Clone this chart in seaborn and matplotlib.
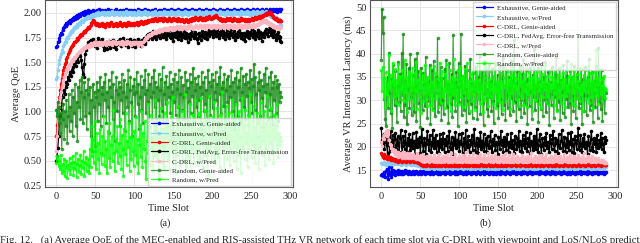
import numpy as np
import matplotlib
matplotlib.use("Agg")
import matplotlib.pyplot as plt
import seaborn as sns

series_labels = ["Exhaustive, Genie-aided", "Exhaustive, w/Pred", "C-DRL, Genie-aided",
                 "C-DRL, FedAvg, Error-free Transmission", "C-DRL, w/Pred",
                 "Random, Genie-aided", "Random, w/Pred"]
series_colors = ["#0000ff", "#87cefa", "#ff0000", "#000000", "#ffb6c1", "#138a13", "#00ff00"]

# ---------------- (a) Average QoE ----------------
qoe_exh_genie = [
 1.65, 1.66, 1.70, 1.72, 1.75, 1.78, 1.80, 1.79, 1.83, 1.85, 1.86, 1.88, 1.87, 1.90, 1.89, 1.91, 1.92, 1.90, 1.93, 1.92,
 1.94, 1.93, 1.95, 1.96, 1.94, 1.97, 1.95, 1.98, 1.96, 1.99, 1.98, 1.97, 2.00, 1.99, 2.01, 1.98, 2.00, 2.02, 2.01, 1.99,
 2.01, 2.03, 2.00, 2.02, 2.01, 1.99, 2.02, 2.03, 2.01, 2.00, 2.02, 2.01, 2.03, 2.00, 2.02, 2.04, 2.01, 2.00, 2.02, 2.03,
 2.01, 2.02, 2.00, 2.03, 2.01, 2.02, 2.04, 2.01, 2.00, 2.02, 2.03, 2.01, 2.02, 2.00, 2.01, 2.03, 2.02, 2.04, 2.01, 2.02,
 2.00, 2.02, 2.03, 2.01, 2.02, 2.00, 2.03, 2.02, 2.01, 2.04, 2.02, 2.00, 2.01, 2.03, 2.02, 2.01, 2.03, 2.00, 2.02, 2.01,
 2.03, 2.02, 2.00, 2.01, 2.04, 2.02, 2.01, 2.03, 2.00, 2.02, 2.01, 2.03, 2.02, 2.04, 2.01, 2.02, 2.00, 2.03, 2.01, 2.02,
 2.02, 2.01, 2.03, 2.00, 2.02, 2.03, 2.01, 2.04, 2.02, 2.00, 2.01, 2.03, 2.02, 2.01, 2.03, 2.02, 2.00, 2.02, 2.04, 2.01,
 2.03, 2.02, 2.01, 2.03, 2.00, 2.02, 2.01, 2.04, 2.02, 2.03, 2.01, 2.02, 2.00, 2.03, 2.02, 2.01, 2.04, 2.02, 2.03, 2.01,
 2.02, 2.00, 2.03, 2.01, 2.02, 2.04, 2.01, 2.03, 2.02, 2.00, 2.02, 2.03, 2.01, 2.02, 2.04, 2.02, 2.01, 2.03, 2.00, 2.02,
 2.01, 2.03, 2.02, 2.04, 2.01, 2.02, 2.00, 2.03, 2.02, 2.01, 2.03, 2.02, 2.04, 2.01, 2.02, 2.03, 2.00, 2.02, 2.01, 2.03,
 2.02, 2.04, 2.01, 2.03, 2.02, 2.00, 2.02, 2.01, 2.03, 2.02, 2.04, 2.01, 2.02, 2.03, 2.01, 2.02, 2.00, 2.03, 2.02, 2.04,
 2.01, 2.02, 2.03, 2.01, 2.02, 2.00, 2.03, 2.02, 2.04, 2.01, 2.03, 2.02, 2.01, 2.03, 2.02, 2.00, 2.02, 2.04, 2.01, 2.03,
 2.02, 2.01, 2.03, 2.02, 2.04, 2.01, 2.02, 2.03, 2.00, 2.02, 2.03, 2.01, 2.04, 2.02, 2.03, 2.01, 2.02, 2.04, 2.03, 2.01,
 2.02, 2.03, 2.01, 2.04, 2.02, 2.03, 2.01, 2.02, 2.04, 2.03, 2.01, 2.02, 2.03, 2.04, 2.02, 2.01, 2.03, 2.02, 2.04, 2.03,
 2.02, 2.04, 2.03, 2.01, 2.03, 2.04, 2.02, 2.03, 2.04]

qoe_exh_pred = [
 1.33, 1.35, 1.42, 1.48, 1.52, 1.55, 1.58, 1.62, 1.60, 1.66, 1.68, 1.71, 1.70, 1.74, 1.76, 1.75, 1.78, 1.80, 1.79, 1.82,
 1.81, 1.84, 1.83, 1.86, 1.85, 1.87, 1.86, 1.89, 1.88, 1.90, 1.91, 1.89, 1.92, 1.93, 1.91, 1.94, 1.93, 1.95, 1.94, 1.96,
 1.95, 1.97, 1.96, 1.95, 1.98, 1.97, 1.96, 1.99, 1.98, 1.97, 1.99, 2.00, 1.98, 1.99, 2.01, 1.98, 2.00, 1.99, 2.01, 2.00,
 1.99, 2.01, 1.98, 2.00, 1.99, 2.01, 2.00, 1.98, 2.01, 1.99, 2.00, 2.02, 1.99, 2.00, 1.98, 2.01, 2.00, 1.99, 2.01, 2.00,
 1.98, 2.00, 2.01, 1.99, 2.00, 1.98, 2.01, 2.00, 1.99, 2.02, 2.00, 1.98, 1.99, 2.01, 2.00, 1.99, 2.01, 1.98, 2.00, 1.99,
 2.01, 2.00, 1.98, 1.99, 2.02, 2.00, 1.99, 2.01, 1.98, 2.00, 1.99, 2.01, 2.00, 2.02, 1.99, 2.00, 1.98, 2.01, 1.99, 2.00,
 2.00, 1.99, 2.01, 1.98, 2.00, 2.01, 1.99, 2.02, 2.00, 1.98, 1.99, 2.01, 2.00, 1.99, 2.01, 2.00, 1.98, 2.00, 2.02, 1.99,
 2.01, 2.00, 1.99, 2.01, 1.98, 2.00, 1.99, 2.02, 2.00, 2.01, 1.99, 2.00, 1.98, 2.01, 2.00, 1.99, 2.02, 2.00, 2.01, 1.99,
 2.00, 1.98, 2.01, 1.99, 2.00, 2.02, 1.99, 2.01, 2.00, 1.98, 2.00, 2.01, 1.99, 2.00, 2.02, 2.00, 1.99, 2.01, 1.98, 2.00,
 1.99, 2.01, 2.00, 2.02, 1.99, 2.00, 1.98, 2.01, 2.00, 1.99, 2.01, 2.00, 2.02, 1.99, 2.00, 2.01, 1.98, 2.00, 1.99, 2.01,
 2.00, 2.02, 1.99, 2.01, 2.00, 1.98, 2.00, 1.99, 2.01, 2.00, 2.02, 1.99, 2.00, 2.01, 1.99, 2.00, 1.98, 2.01, 2.00, 2.02,
 1.99, 2.00, 2.01, 1.99, 2.00, 1.98, 2.01, 2.00, 2.02, 1.99, 2.01, 2.00, 1.99, 2.01, 2.00, 1.98, 2.00, 2.02, 1.99, 2.01,
 2.00, 1.99, 2.01, 2.00, 2.02, 1.99, 2.00, 2.01, 1.98, 2.00, 2.01, 1.99, 2.02, 2.00, 2.01, 1.99, 2.00, 2.02, 2.01, 1.99,
 2.00, 2.01, 1.99, 2.02, 2.00, 2.01, 1.99, 2.00, 2.02, 2.01, 1.99, 2.00, 1.98, 1.97, 1.99, 1.96, 1.98, 1.95, 1.97, 1.96,
 1.94, 1.96, 1.93, 1.95, 1.92, 1.94, 1.91, 1.89, 1.88]

qoe_cdrl_genie = [
 0.75, 0.86, 0.98, 1.08, 1.15, 1.22, 1.28, 1.33, 1.38, 1.42, 1.45, 1.48, 1.50, 1.53, 1.55, 1.58, 1.60, 1.62, 1.63, 1.65,
 1.66, 1.68, 1.67, 1.70, 1.71, 1.72, 1.73, 1.75, 1.74, 1.76, 1.77, 1.78, 1.79, 1.78, 1.80, 1.81, 1.82, 1.81, 1.83, 1.84,
 1.85, 1.86, 1.85, 1.87, 1.88, 1.90, 1.91, 1.93, 1.92, 1.90, 1.89, 1.88, 1.90, 1.89, 1.88, 1.87, 1.89, 1.88, 1.90, 1.88,
 1.87, 1.89, 1.88, 1.86, 1.88, 1.90, 1.89, 1.87, 1.88, 1.90, 1.91, 1.89, 1.88, 1.87, 1.89, 1.88, 1.90, 1.89, 1.87, 1.88,
 1.89, 1.91, 1.90, 1.88, 1.87, 1.89, 1.88, 1.90, 1.89, 1.87, 1.88, 1.90, 1.91, 1.89, 1.88, 1.90, 1.89, 1.88, 1.90, 1.89,
 1.88, 1.90, 1.89, 1.91, 1.90, 1.88, 1.89, 1.91, 1.90, 1.92, 1.91, 1.89, 1.90, 1.92, 1.91, 1.90, 1.92, 1.93, 1.91, 1.92,
 1.93, 1.92, 1.94, 1.93, 1.92, 1.94, 1.95, 1.93, 1.94, 1.92, 1.93, 1.95, 1.94, 1.93, 1.95, 1.94, 1.92, 1.93, 1.95, 1.94,
 1.93, 1.94, 1.92, 1.93, 1.95, 1.94, 1.93, 1.92, 1.94, 1.93, 1.95, 1.94, 1.93, 1.94, 1.92, 1.93, 1.95, 1.94, 1.93, 1.92,
 1.93, 1.94, 1.92, 1.91, 1.93, 1.92, 1.94, 1.93, 1.91, 1.92, 1.93, 1.94, 1.92, 1.93, 1.95, 1.94, 1.93, 1.94, 1.96, 1.95,
 1.94, 1.95, 1.93, 1.94, 1.96, 1.95, 1.94, 1.93, 1.95, 1.94, 1.93, 1.95, 1.96, 1.94, 1.95, 1.97, 1.96, 1.95, 1.94, 1.95,
 1.96, 1.95, 1.97, 1.96, 1.98, 1.97, 1.96, 1.95, 1.94, 1.95, 1.93, 1.94, 1.92, 1.93, 1.94, 1.93, 1.92, 1.94, 1.93, 1.95,
 1.94, 1.93, 1.95, 1.94, 1.93, 1.92, 1.94, 1.93, 1.95, 1.94, 1.93, 1.92, 1.93, 1.94, 1.92, 1.93, 1.95, 1.94, 1.93, 1.94,
 1.93, 1.92, 1.94, 1.93, 1.92, 1.93, 1.94, 1.92, 1.93, 1.94, 1.95, 1.94, 1.93, 1.95, 1.96, 1.95, 1.94, 1.96, 1.95, 1.97,
 1.96, 1.95, 1.97, 1.96, 1.98, 1.97, 1.98, 1.99, 1.98, 2.00, 1.99, 2.01, 2.00, 1.99, 2.01, 2.00, 1.98, 1.97, 1.96, 1.95,
 1.94, 1.95, 1.93, 1.94, 1.92, 1.93, 1.92, 1.93, 1.92]

qoe_cdrl_fedavg = [
 0.50, 0.55, 0.63, 0.75, 0.88, 0.95, 1.02, 1.08, 1.15, 1.20, 1.22, 1.18, 1.25, 1.30, 1.28, 1.35, 1.32, 1.38, 1.40, 1.36,
 1.42, 1.45, 1.40, 1.48, 1.50, 1.46, 1.52, 1.55, 1.50, 1.58, 1.56, 1.60, 1.52, 1.45, 1.38, 1.35, 1.48, 1.58, 1.62, 1.65,
 1.68, 1.70, 1.66, 1.72, 1.69, 1.73, 1.70, 1.74, 1.71, 1.68, 1.66, 1.70, 1.64, 1.72, 1.75, 1.70, 1.68, 1.72, 1.74, 1.71,
 1.66, 1.62, 1.68, 1.65, 1.70, 1.63, 1.67, 1.72, 1.68, 1.64, 1.70, 1.66, 1.73, 1.69, 1.65, 1.71, 1.67, 1.63, 1.69, 1.72,
 1.68, 1.74, 1.70, 1.66, 1.72, 1.69, 1.75, 1.71, 1.67, 1.70, 1.73, 1.68, 1.65, 1.71, 1.74, 1.69, 1.72, 1.66, 1.70, 1.73,
 1.69, 1.65, 1.71, 1.68, 1.74, 1.70, 1.67, 1.72, 1.66, 1.70, 1.73, 1.69, 1.75, 1.71, 1.68, 1.76, 1.78, 1.74, 1.79, 1.76,
 1.80, 1.77, 1.74, 1.79, 1.82, 1.76, 1.80, 1.78, 1.74, 1.81, 1.77, 1.83, 1.79, 1.75, 1.80, 1.78, 1.82, 1.76, 1.79, 1.81,
 1.77, 1.74, 1.80, 1.78, 1.83, 1.76, 1.79, 1.75, 1.81, 1.78, 1.72, 1.77, 1.80, 1.76, 1.82, 1.79, 1.74, 1.78, 1.81, 1.77,
 1.73, 1.79, 1.76, 1.82, 1.78, 1.75, 1.80, 1.77, 1.71, 1.76, 1.79, 1.74, 1.80, 1.77, 1.83, 1.78, 1.75, 1.81, 1.76, 1.79,
 1.74, 1.69, 1.75, 1.80, 1.77, 1.73, 1.78, 1.82, 1.76, 1.79, 1.75, 1.81, 1.78, 1.74, 1.80, 1.83, 1.77, 1.79, 1.84, 1.80,
 1.76, 1.82, 1.78, 1.85, 1.80, 1.77, 1.83, 1.79, 1.75, 1.81, 1.78, 1.84, 1.80, 1.76, 1.82, 1.79, 1.74, 1.80, 1.77, 1.83,
 1.79, 1.75, 1.81, 1.78, 1.84, 1.79, 1.76, 1.82, 1.78, 1.73, 1.79, 1.76, 1.81, 1.77, 1.83, 1.79, 1.75, 1.80, 1.78, 1.74,
 1.80, 1.77, 1.72, 1.78, 1.82, 1.76, 1.79, 1.75, 1.81, 1.78, 1.84, 1.79, 1.76, 1.82, 1.78, 1.74, 1.80, 1.77, 1.83, 1.79,
 1.75, 1.81, 1.78, 1.72, 1.77, 1.80, 1.76, 1.82, 1.79, 1.84, 1.80, 1.77, 1.83, 1.86, 1.81, 1.78, 1.84, 1.80, 1.76, 1.82,
 1.78, 1.73, 1.79, 1.75, 1.81, 1.77, 1.72, 1.76, 1.70]

qoe_cdrl_pred = [
 0.60, 0.75, 0.90, 1.00, 1.08, 1.15, 1.20, 1.25, 1.28, 1.32, 1.35, 1.38, 1.40, 1.42, 1.44, 1.43, 1.46, 1.48, 1.47, 1.50,
 1.52, 1.51, 1.53, 1.55, 1.54, 1.56, 1.58, 1.57, 1.59, 1.60, 1.61, 1.60, 1.62, 1.63, 1.62, 1.64, 1.65, 1.64, 1.66, 1.65,
 1.66, 1.67, 1.65, 1.68, 1.66, 1.69, 1.67, 1.68, 1.70, 1.67, 1.69, 1.68, 1.70, 1.67, 1.69, 1.71, 1.68, 1.70, 1.69, 1.67,
 1.69, 1.71, 1.68, 1.70, 1.67, 1.69, 1.72, 1.70, 1.68, 1.71, 1.69, 1.67, 1.70, 1.72, 1.69, 1.71, 1.68, 1.70, 1.69, 1.71,
 1.70, 1.68, 1.71, 1.69, 1.72, 1.70, 1.67, 1.69, 1.71, 1.68, 1.70, 1.72, 1.69, 1.71, 1.68, 1.70, 1.67, 1.69, 1.71, 1.70,
 1.68, 1.70, 1.69, 1.71, 1.67, 1.69, 1.70, 1.68, 1.71, 1.69, 1.66, 1.70, 1.72, 1.74, 1.73, 1.76, 1.75, 1.77, 1.78, 1.77,
 1.79, 1.78, 1.80, 1.79, 1.81, 1.80, 1.82, 1.81, 1.80, 1.82, 1.83, 1.81, 1.82, 1.84, 1.83, 1.82, 1.84, 1.83, 1.85, 1.84,
 1.83, 1.85, 1.84, 1.83, 1.85, 1.86, 1.84, 1.85, 1.83, 1.84, 1.86, 1.85, 1.84, 1.86, 1.85, 1.87, 1.86, 1.84, 1.85, 1.87,
 1.86, 1.84, 1.85, 1.87, 1.86, 1.85, 1.84, 1.86, 1.87, 1.85, 1.86, 1.88, 1.87, 1.85, 1.86, 1.84, 1.86, 1.87, 1.86, 1.88,
 1.87, 1.86, 1.85, 1.87, 1.88, 1.86, 1.85, 1.87, 1.86, 1.88, 1.87, 1.85, 1.86, 1.88, 1.87, 1.86, 1.88, 1.87, 1.85, 1.86,
 1.88, 1.87, 1.86, 1.88, 1.87, 1.85, 1.86, 1.88, 1.87, 1.86, 1.85, 1.87, 1.86, 1.88, 1.87, 1.85, 1.86, 1.87, 1.88, 1.86,
 1.85, 1.87, 1.86, 1.88, 1.87, 1.86, 1.85, 1.87, 1.88, 1.86, 1.87, 1.85, 1.86, 1.88, 1.87, 1.86, 1.88, 1.87, 1.85, 1.87,
 1.86, 1.88, 1.87, 1.85, 1.86, 1.88, 1.87, 1.86, 1.88, 1.87, 1.86, 1.88, 1.89, 1.87, 1.88, 1.86, 1.88, 1.89, 1.88, 1.90,
 1.89, 1.91, 1.90, 1.92, 1.91, 1.93, 1.92, 1.91, 1.93, 1.92, 1.90, 1.91, 1.89, 1.90, 1.88, 1.89, 1.87, 1.88, 1.86, 1.87,
 1.86, 1.85, 1.87, 1.86, 1.85, 1.84, 1.86, 1.85, 1.86]

qoe_random_genie = [
 1.02, 0.95, 1.10, 0.88, 1.05, 0.78, 0.98, 0.62, 0.92, 1.08, 0.72, 1.00, 0.85, 1.12, 0.68, 0.95, 1.18, 0.80, 1.05, 0.90,
 1.22, 0.75, 1.15, 0.98, 1.28, 0.85, 1.10, 0.70, 1.25, 1.05, 1.32, 0.92, 1.20, 1.35, 0.88, 1.15, 1.30, 0.95, 1.22, 0.82,
 1.18, 1.33, 0.98, 1.25, 0.75, 1.12, 0.60, 1.28, 1.05, 1.20, 0.65, 1.15, 1.30, 0.90, 1.22, 1.08, 1.35, 0.85, 1.18, 1.25,
 0.95, 1.30, 1.12, 1.38, 0.88, 1.20, 1.05, 1.32, 0.78, 1.25, 1.15, 1.40, 0.92, 1.28, 1.10, 0.70, 1.22, 1.35, 1.00, 1.18,
 1.30, 0.85, 1.25, 1.12, 1.38, 0.98, 1.20, 1.32, 0.80, 1.15, 1.28, 1.05, 1.42, 0.90, 1.22, 1.35, 1.10, 0.75, 1.26, 1.18,
 1.33, 0.95, 1.20, 1.40, 1.08, 1.28, 0.82, 1.15, 1.36, 1.02, 1.25, 0.88, 1.32, 1.18, 1.42, 0.98, 1.22, 1.10, 1.38, 0.85,
 1.28, 1.15, 1.35, 0.92, 1.20, 1.42, 1.05, 1.30, 0.80, 1.25, 1.12, 1.38, 0.95, 1.22, 1.33, 1.00, 1.45, 0.88, 1.18, 1.30,
 1.08, 1.36, 0.90, 1.25, 1.15, 1.40, 0.98, 1.28, 1.20, 0.84, 1.33, 1.10, 1.38, 0.96, 1.23, 1.30, 1.05, 1.42, 0.88, 1.18,
 1.35, 1.02, 1.27, 1.15, 0.92, 1.40, 1.20, 1.32, 0.86, 1.24, 1.10, 1.38, 0.98, 1.30, 1.16, 1.44, 0.90, 1.22, 1.34, 1.05,
 1.28, 0.94, 1.36, 1.12, 1.25, 0.82, 1.40, 1.18, 1.30, 1.00, 1.35, 1.08, 1.22, 0.88, 1.42, 1.15, 1.30, 0.96, 1.26, 1.38,
 1.04, 1.32, 0.90, 1.20, 1.40, 1.12, 1.28, 0.85, 1.35, 1.18, 1.45, 0.98, 1.24, 1.30, 1.06, 1.38, 0.92, 1.22, 1.33, 1.10,
 1.36, 0.88, 1.26, 1.15, 1.42, 1.00, 1.30, 1.20, 0.82, 1.34, 1.08, 1.40, 0.95, 1.25, 1.32, 1.12, 1.44, 0.90, 1.20, 1.36,
 1.05, 1.28, 0.92, 1.38, 1.16, 1.30, 0.86, 1.24, 1.42, 1.10, 1.33, 0.98, 1.26, 1.48, 1.02, 1.35, 1.18, 0.88, 1.30, 1.22,
 1.40, 0.95, 1.32, 1.14, 1.26, 0.84, 1.38, 1.20, 1.44, 1.06, 1.28, 0.92, 1.35, 1.18, 1.02, 1.40, 1.24, 0.86, 1.30, 1.12,
 1.36, 0.98, 1.25, 1.32, 0.90, 1.28, 1.10, 1.20, 1.15]

qoe_random_pred = [
 0.48, 0.55, 0.52, 0.45, 0.50, 0.42, 0.56, 0.38, 0.47, 0.40, 0.52, 0.35, 0.44, 0.50, 0.33, 0.46, 0.41, 0.53, 0.37, 0.48,
 0.43, 0.55, 0.36, 0.49, 0.42, 0.58, 0.34, 0.47, 0.52, 0.39, 0.45, 0.56, 0.37, 0.50, 0.43, 0.60, 0.35, 0.48, 0.54, 0.40,
 0.46, 0.52, 0.38, 0.62, 0.44, 0.85, 0.55, 0.72, 0.48, 0.90, 0.60, 0.42, 0.78, 0.52, 0.68, 0.38, 0.82, 0.58, 0.47, 0.75,
 0.56, 0.95, 0.45, 0.70, 0.62, 0.38, 0.80, 0.53, 0.88, 0.44, 0.66, 0.75, 0.50, 1.02, 0.58, 0.40, 0.72, 0.60, 0.85, 0.48,
 0.68, 0.55, 0.92, 0.42, 0.76, 0.62, 0.35, 0.82, 0.57, 0.98, 0.46, 0.70, 0.64, 0.88, 0.40, 0.74, 0.52, 1.05, 0.60, 0.45,
 0.80, 0.56, 0.94, 0.48, 0.72, 0.38, 0.66, 0.86, 0.54, 1.00, 0.44, 0.78, 0.62, 0.90, 0.50, 0.32, 0.70, 1.08, 0.58, 0.84,
 0.46, 0.96, 0.64, 0.74, 0.40, 0.88, 0.56, 1.12, 0.68, 0.50, 0.92, 0.36, 0.78, 0.60, 1.04, 0.48, 0.82, 0.66, 0.44, 0.98,
 0.58, 0.76, 1.10, 0.52, 0.86, 0.42, 0.70, 0.94, 0.62, 1.15, 0.48, 0.80, 0.66, 0.38, 0.92, 0.56, 1.06, 0.72, 0.46, 0.88,
 0.64, 1.00, 0.50, 0.84, 0.60, 1.18, 0.44, 0.78, 0.92, 0.54, 0.70, 1.08, 0.40, 0.86, 0.62, 0.96, 0.48, 0.74, 1.12, 0.58,
 0.82, 0.46, 0.98, 0.66, 0.52, 1.14, 0.72, 0.88, 0.42, 0.80, 1.02, 0.56, 0.90, 0.64, 0.36, 0.84, 1.16, 0.60, 0.76, 0.50,
 0.94, 0.68, 1.10, 0.48, 0.78, 0.62, 1.04, 0.54, 0.86, 0.44, 0.96, 0.72, 1.20, 0.58, 0.80, 0.40, 0.90, 0.66, 1.06, 0.52,
 0.76, 0.98, 0.46, 0.84, 0.60, 1.12, 0.70, 0.50, 0.92, 0.64, 1.08, 0.42, 0.82, 0.56, 1.00, 0.74, 0.38, 0.88, 1.14, 0.62,
 0.86, 0.52, 1.02, 0.68, 0.78, 0.44, 0.96, 0.60, 1.18, 0.72, 0.54, 0.90, 0.66, 1.06, 0.48, 0.84, 0.58, 0.98, 0.74, 0.42,
 0.92, 0.64, 1.10, 0.56, 0.80, 0.70, 1.00, 0.46, 0.88, 0.62, 1.16, 0.76, 0.52, 0.94, 0.68, 1.04, 0.58, 0.82, 0.48, 0.96,
 0.72, 1.08, 0.60, 0.86, 0.54, 0.78, 0.66, 0.74, 0.70]

# ---------------- (b) Average VR interaction latency (ms) ----------------
lat_exh_genie = [
 14.0, 14.2, 13.8, 14.5, 14.1, 13.6, 14.8, 15.3, 14.0, 13.2, 15.8, 14.4, 13.5, 15.6, 14.2, 15.1, 14.6, 14.0, 14.9, 14.3,
 14.7, 14.1, 15.0, 14.4, 14.8, 14.2, 14.9, 14.5, 14.1, 14.7, 15.0, 14.3, 14.6, 14.9, 14.2, 14.5, 14.8, 14.4, 14.1, 14.7,
 14.4, 14.8, 14.2, 14.6, 14.9, 14.3, 14.5, 14.1, 14.7, 14.4, 14.8, 14.2, 14.6, 14.3, 14.9, 14.5, 14.2, 14.7, 14.4, 14.6,
 14.3, 14.7, 14.5, 14.1, 14.6, 14.8, 14.2, 14.5, 14.4, 14.9, 14.3, 14.6, 14.2, 14.7, 14.5, 14.1, 14.8, 14.4, 14.6, 14.3,
 14.7, 14.4, 14.2, 14.8, 14.5, 14.3, 14.6, 14.9, 14.2, 14.5, 14.7, 14.3, 14.6, 14.4, 14.1, 14.8, 14.5, 14.2, 14.7, 14.4,
 14.5, 14.8, 14.3, 14.6, 14.2, 14.7, 14.4, 14.9, 14.5, 14.1, 14.6, 14.3, 14.8, 14.4, 14.6, 14.2, 14.7, 14.5, 14.3, 14.6,
 14.4, 14.2, 14.7, 14.5, 14.8, 14.3, 14.6, 14.1, 14.5, 14.7, 14.4, 14.9, 14.2, 14.6, 14.3, 14.5, 14.8, 14.4, 14.2, 14.6,
 14.7, 14.3, 14.5, 14.2, 14.6, 14.8, 14.4, 14.1, 14.6, 14.3, 14.7, 14.5, 14.2, 14.8, 14.4, 14.6, 14.3, 14.5, 14.7, 14.2,
 14.5, 14.8, 14.3, 14.6, 14.4, 14.2, 14.7, 14.5, 14.9, 14.3, 14.6, 14.4, 14.1, 14.7, 14.5, 14.3, 14.8, 14.4, 14.6, 14.2,
 14.6, 14.4, 14.8, 14.3, 14.5, 14.7, 14.2, 14.6, 14.4, 14.9, 14.3, 14.5, 14.7, 14.2, 14.6, 14.4, 14.8, 14.5, 14.3, 14.7,
 14.4, 14.6, 14.2, 14.8, 14.5, 14.3, 14.7, 14.4, 14.6, 14.1, 14.5, 14.8, 14.3, 14.6, 14.4, 14.7, 14.2, 14.5, 14.9, 14.4,
 14.3, 14.6, 14.5, 14.2, 14.7, 14.4, 14.8, 14.3, 14.5, 14.6, 14.2, 14.7, 14.4, 14.5, 14.8, 14.3, 14.6, 14.4, 14.1, 14.6,
 14.5, 14.2, 14.7, 14.4, 14.6, 14.3, 14.8, 14.5, 14.2, 14.6, 14.4, 14.7, 14.3, 14.5, 14.8, 14.4, 14.2, 14.6, 14.5, 14.3,
 14.7, 14.4, 14.6, 14.2, 14.5, 14.8, 14.3, 14.6, 14.4, 14.7, 14.2, 14.5, 14.4, 14.6, 14.3, 14.7, 14.5, 14.2, 14.6, 14.4,
 14.5, 14.3, 14.7, 14.4, 14.6, 14.2, 14.5, 14.4, 14.5]

lat_exh_pred = [
 16.5, 16.4, 16.6, 16.3, 16.7, 16.5, 16.2, 16.6, 16.4, 16.8, 16.5, 16.3, 16.6, 16.4, 16.7, 16.5, 16.3, 16.6, 16.5, 16.4,
 16.6, 16.3, 16.5, 16.7, 16.4, 16.2, 16.6, 16.5, 16.3, 16.7, 16.4, 16.5, 16.2, 16.6, 16.4, 16.3, 16.5, 16.6, 16.2, 16.4,
 16.5, 16.3, 16.1, 16.4, 16.2, 16.0, 16.3, 15.9, 16.1, 15.8, 15.9, 15.7, 15.8, 15.6, 15.9, 15.7, 15.5, 15.8, 15.6, 15.7,
 15.6, 15.4, 15.7, 15.5, 15.8, 15.4, 15.6, 15.3, 15.7, 15.5, 15.6, 15.8, 15.4, 15.6, 15.5, 15.7, 15.3, 15.6, 15.5, 15.8,
 15.5, 15.7, 15.4, 15.6, 15.3, 15.7, 15.5, 15.8, 15.4, 15.6, 15.5, 15.3, 15.7, 15.6, 15.4, 15.8, 15.5, 15.6, 15.4, 15.7,
 15.6, 15.4, 15.8, 15.5, 15.7, 15.3, 15.6, 15.5, 15.7, 15.4, 15.8, 15.6, 15.5, 15.3, 15.7, 15.4, 15.6, 15.8, 15.5, 15.6,
 15.4, 15.7, 15.5, 15.6, 15.8, 15.4, 15.6, 15.3, 15.7, 15.5, 15.6, 15.4, 15.8, 15.5, 15.7, 15.6, 15.3, 15.6, 15.5, 15.7,
 15.5, 15.8, 15.4, 15.6, 15.5, 15.7, 15.3, 15.6, 15.8, 15.4, 15.7, 15.5, 15.6, 15.4, 15.8, 15.5, 15.6, 15.3, 15.7, 15.5,
 15.6, 15.4, 15.7, 15.5, 15.3, 15.8, 15.6, 15.4, 15.7, 15.5, 15.6, 15.8, 15.4, 15.6, 15.5, 15.7, 15.3, 15.6, 15.8, 15.5,
 15.7, 15.5, 15.6, 15.4, 15.8, 15.5, 15.7, 15.3, 15.6, 15.5, 15.8, 15.4, 15.6, 15.7, 15.5, 15.3, 15.6, 15.8, 15.4, 15.6,
 15.5, 15.7, 15.4, 15.6, 15.8, 15.5, 15.6, 15.3, 15.7, 15.5, 15.6, 15.4, 15.8, 15.6, 15.5, 15.7, 15.4, 15.6, 15.5, 15.8,
 15.6, 15.4, 15.7, 15.5, 15.6, 15.3, 15.8, 15.5, 15.7, 15.4, 15.6, 15.5, 15.8, 15.6, 15.4, 15.7, 15.5, 15.3, 15.6, 15.7,
 15.5, 15.8, 15.6, 15.4, 15.7, 15.5, 15.6, 15.3, 15.8, 15.6, 15.5, 15.7, 15.4, 15.6, 15.8, 15.5, 15.7, 15.4, 15.6, 15.5,
 15.7, 15.5, 15.6, 15.8, 15.4, 15.6, 15.5, 15.7, 15.3, 15.6, 15.8, 15.5, 15.7, 15.4, 15.6, 15.5, 15.8, 15.6, 15.4, 15.7,
 15.5, 15.6, 15.8, 15.4, 15.7, 15.5, 15.6, 15.8, 15.6]

lat_cdrl_genie = [
 18.6, 18.2, 17.8, 18.4, 17.6, 18.1, 17.9, 17.4, 18.0, 17.7, 17.3, 17.9, 17.5, 17.2, 17.6, 17.1, 17.4, 16.9, 17.3, 17.0,
 17.2, 16.8, 17.1, 17.3, 16.9, 17.0, 17.2, 16.8, 17.1, 16.9, 17.3, 17.0, 16.8, 17.2, 16.9, 17.1, 17.0, 16.8, 17.2, 16.9,
 17.0, 17.1, 16.8, 16.9, 17.0, 16.7, 16.9, 16.6, 16.8, 16.5, 16.3, 16.1, 16.2, 15.9, 16.1, 16.0, 16.2, 15.9, 16.1, 16.3,
 16.0, 16.2, 15.9, 16.1, 16.3, 15.9, 16.0, 16.2, 16.1, 15.8, 16.0, 16.3, 16.1, 15.9, 16.2, 16.0, 16.1, 15.8, 16.2, 16.0,
 16.1, 15.9, 16.2, 16.0, 16.3, 16.1, 15.8, 16.0, 16.2, 15.9, 16.1, 16.0, 16.3, 15.9, 16.1, 16.2, 16.0, 15.8, 16.1, 16.2,
 15.9, 16.1, 16.0, 16.2, 15.9, 16.3, 16.1, 16.0, 15.8, 16.2, 16.0, 16.1, 15.9, 16.2, 16.0, 16.3, 16.1, 15.9, 16.0, 16.2,
 16.1, 15.9, 16.2, 16.0, 16.1, 15.8, 16.2, 16.0, 16.3, 16.1, 15.9, 16.0, 16.2, 16.1, 15.9, 16.0, 16.3, 16.1, 16.0, 15.8,
 16.2, 16.0, 16.1, 15.9, 16.3, 16.1, 16.0, 16.2, 15.9, 16.1, 16.0, 16.2, 15.8, 16.1, 16.3, 16.0, 15.9, 16.2, 16.1, 16.0,
 15.9, 16.2, 16.0, 16.1, 16.3, 16.0, 15.8, 16.1, 16.2, 16.0, 16.4, 16.1, 15.9, 16.2, 16.0, 16.1, 16.3, 15.9, 16.1, 16.0,
 16.2, 16.0, 16.3, 16.1, 15.9, 16.2, 16.0, 16.1, 15.8, 16.2, 16.1, 16.0, 16.3, 15.9, 16.1, 16.2, 16.0, 16.1, 15.9, 16.2,
 16.0, 16.1, 16.3, 15.9, 16.2, 16.0, 16.1, 15.8, 16.2, 16.0, 16.1, 16.3, 16.0, 15.9, 16.2, 16.1, 16.0, 16.2, 15.9, 16.1,
 16.2, 16.0, 16.1, 15.9, 16.3, 16.1, 16.0, 16.2, 15.8, 16.1, 16.0, 16.2, 16.1, 15.9, 16.3, 16.0, 16.1, 16.2, 16.0, 15.9,
 16.1, 16.3, 16.0, 16.2, 15.9, 16.1, 16.0, 16.2, 16.1, 15.8, 16.2, 16.0, 16.1, 16.3, 15.9, 16.1, 16.0, 16.2, 16.1, 16.0,
 16.2, 15.9, 16.1, 16.0, 16.3, 16.1, 16.0, 16.2, 15.9, 16.1, 16.2, 16.0, 16.1, 15.8, 16.2, 16.0, 16.3, 16.1, 16.0, 16.2,
 16.1, 15.9, 16.2, 16.0, 16.1, 16.3, 16.0, 16.2, 16.1]

lat_cdrl_fedavg = [
 24.0, 21.5, 20.2, 22.8, 19.5, 21.0, 23.2, 20.4, 18.6, 22.1, 20.8, 19.2, 23.5, 21.3, 20.0, 22.6, 19.8, 21.7, 23.0, 20.5,
 19.4, 22.3, 20.9, 18.8, 21.8, 23.6, 20.1, 19.0, 22.4, 21.1, 19.6, 23.3, 20.7, 18.9, 21.9, 20.3, 22.7, 19.3, 21.4, 20.0,
 22.9, 19.7, 21.2, 18.5, 20.6, 23.1, 19.9, 21.6, 20.2, 22.2, 18.7, 21.0, 23.8, 20.4, 19.1, 22.0, 20.8, 18.4, 21.5, 23.4,
 20.6, 19.3, 22.5, 21.0, 18.9, 20.5, 23.7, 19.8, 21.8, 20.1, 22.6, 19.0, 21.3, 20.7, 18.6, 22.8, 20.0, 21.6, 19.5, 23.0,
 20.9, 18.8, 21.7, 20.3, 22.4, 19.2, 21.1, 23.5, 20.0, 19.6, 22.1, 20.8, 18.5, 21.9, 20.4, 23.2, 19.7, 21.4, 20.2, 22.7,
 19.1, 21.2, 20.6, 22.9, 18.7, 20.3, 21.8, 19.4, 23.6, 20.9, 19.9, 22.3, 20.1, 18.9, 21.5, 20.7, 22.5, 19.3, 21.0, 23.9,
 20.4, 19.0, 22.0, 20.8, 18.6, 21.6, 20.2, 23.1, 19.5, 21.3, 20.0, 22.8, 19.2, 20.6, 21.9, 18.8, 22.4, 20.5, 19.7, 21.2,
 23.3, 20.1, 18.9, 21.7, 20.3, 22.6, 19.4, 21.0, 20.7, 18.4, 22.2, 20.9, 19.6, 23.4, 20.5, 21.4, 19.0, 22.1, 20.2, 21.8,
 19.3, 22.7, 20.6, 18.8, 21.1, 20.0, 23.0, 19.8, 21.5, 20.4, 18.6, 22.3, 20.8, 19.5, 21.9, 20.2, 23.5, 19.1, 21.3, 20.7,
 18.9, 22.5, 20.3, 21.6, 19.7, 23.2, 20.9, 19.2, 21.8, 20.1, 22.9, 18.7, 21.2, 20.6, 19.4, 22.4, 20.0, 21.7, 19.6, 23.8,
 20.5, 19.0, 21.4, 22.8, 20.2, 18.5, 21.9, 20.7, 19.3, 22.1, 20.4, 23.0, 19.8, 21.1, 20.0, 18.8, 22.6, 20.9, 19.5, 21.6,
 23.3, 20.3, 19.1, 22.0, 20.8, 21.5, 18.6, 22.7, 20.1, 19.7, 21.3, 23.6, 20.6, 19.2, 22.2, 20.4, 18.9, 21.8, 20.0, 22.9,
 19.4, 21.2, 20.7, 23.1, 19.0, 21.7, 20.3, 18.7, 22.4, 20.9, 19.6, 21.4, 24.0, 20.2, 19.3, 22.5, 20.6, 18.8, 21.9, 20.1,
 22.8, 19.8, 21.0, 20.5, 18.5, 22.3, 20.8, 19.4, 21.6, 23.4, 20.0, 19.1, 22.0, 20.7, 21.3, 18.9, 22.6, 20.4, 19.7, 21.5,
 20.2, 23.0, 19.5, 21.8, 20.6, 18.8, 22.2, 20.9, 21.4]

lat_cdrl_pred = [
 21.0, 20.2, 21.8, 22.5, 21.6, 22.9, 23.3, 22.4, 23.6, 22.8, 21.5, 20.6, 19.8, 20.4, 19.2, 19.6, 18.8, 19.4, 18.5, 19.0,
 18.2, 18.8, 17.9, 18.5, 18.0, 18.7, 17.6, 18.3, 18.9, 17.8, 18.4, 17.5, 18.1, 18.6, 17.7, 18.2, 17.9, 18.5, 17.6, 18.0,
 17.8, 18.4, 17.5, 18.1, 17.3, 17.9, 18.6, 17.4, 18.0, 17.2, 17.7, 18.3, 17.0, 17.6, 18.2, 17.1, 17.8, 16.9, 17.5, 18.1,
 17.3, 16.8, 17.6, 18.0, 17.1, 17.7, 16.9, 17.4, 18.3, 17.0, 17.5, 16.7, 17.9, 17.2, 18.5, 17.0, 16.8, 17.6, 17.3, 18.1,
 17.0, 17.8, 16.9, 17.4, 18.2, 17.1, 16.7, 17.6, 17.2, 18.6, 17.3, 16.8, 17.5, 17.9, 17.0, 18.4, 17.2, 16.9, 17.7, 17.4,
 18.0, 17.1, 17.6, 16.8, 18.3, 17.3, 17.0, 17.8, 18.8, 17.2, 16.9, 17.5, 18.1, 17.0, 17.7, 16.8, 17.4, 18.5, 17.1, 17.6,
 16.9, 17.3, 18.0, 17.5, 16.8, 17.8, 17.1, 18.4, 17.0, 17.6, 16.9, 17.4, 18.2, 17.2, 16.8, 17.7, 17.0, 18.6, 17.3, 16.9,
 17.5, 18.1, 17.0, 16.8, 17.6, 17.2, 18.3, 16.9, 17.4, 17.8, 17.1, 16.7, 17.9, 17.3, 18.0, 17.0, 16.8, 17.5, 18.4, 17.2,
 16.9, 17.6, 17.1, 18.2, 16.8, 17.4, 17.0, 17.8, 16.7, 18.5, 17.3, 16.9, 17.5, 17.1, 18.0, 16.8, 17.6, 17.2, 16.9, 17.7,
 18.3, 17.0, 16.8, 17.5, 17.1, 17.9, 16.7, 17.3, 18.1, 16.9, 17.4, 17.0, 18.6, 17.2, 16.8, 17.6, 17.1, 18.0, 16.9, 17.4,
 17.0, 17.8, 16.8, 17.3, 18.2, 16.9, 17.5, 17.1, 16.7, 17.9, 17.2, 18.4, 16.8, 17.4, 17.0, 17.7, 16.9, 18.1, 17.3, 16.8,
 17.6, 17.1, 18.3, 16.9, 17.4, 17.0, 17.8, 16.7, 17.5, 18.0, 17.2, 16.8, 17.6, 17.1, 18.5, 16.9, 17.3, 17.0, 17.9, 16.8,
 17.4, 18.2, 17.0, 16.8, 17.7, 17.2, 16.9, 18.0, 17.3, 16.7, 17.5, 17.1, 18.3, 16.9, 17.6, 17.0, 16.8, 17.8, 17.2, 18.6,
 17.0, 16.8, 17.5, 17.1, 18.1, 16.9, 17.4, 17.0, 17.7, 16.8, 18.0, 17.2, 16.9, 17.6, 17.1, 16.8, 17.3, 16.9, 17.5, 17.0,
 16.8, 17.2, 16.7, 16.9, 17.1, 16.6, 16.8, 16.5, 16.6]

lat_random_genie = [
 38.6, 49.6, 44.5, 47.8, 30.2, 26.0, 24.5, 33.8, 35.0, 28.4, 40.2, 31.5, 27.2, 34.6, 24.0, 37.5, 32.8, 28.9, 36.2, 30.4,
 25.3, 33.1, 38.2, 29.6, 35.7, 27.8, 40.1, 31.2, 44.2, 26.5, 34.3, 29.0, 37.8, 24.8, 32.5, 36.9, 28.3, 40.0, 30.7, 26.9,
 35.4, 31.8, 27.4, 38.8, 33.0, 25.6, 40.1, 29.5, 36.3, 32.1, 24.2, 37.0, 30.6, 27.9, 35.8, 33.4, 28.7, 39.3, 31.0, 26.3,
 34.2, 29.8, 37.6, 24.9, 32.7, 36.4, 28.1, 38.5, 30.9, 26.7, 35.1, 31.6, 43.3, 27.5, 33.9, 29.3, 37.2, 25.8, 34.8, 30.1,
 27.0, 36.7, 32.3, 38.6, 28.6, 33.6, 25.1, 37.9, 31.4, 29.1, 35.6, 26.4, 44.0, 30.4, 34.0, 27.7, 36.1, 32.9, 24.5, 38.0,
 29.7, 33.2, 44.3, 26.8, 35.3, 31.1, 28.0, 37.4, 32.6, 25.4, 36.6, 30.0, 27.3, 34.5, 38.9, 29.2, 33.7, 26.1, 35.9, 31.9,
 28.5, 37.1, 32.0, 25.9, 34.9, 30.3, 39.6, 27.1, 33.3, 36.0, 29.4, 24.7, 35.2, 31.3, 38.3, 28.2, 32.4, 26.6, 37.7, 30.8,
 34.1, 27.6, 36.8, 29.9, 25.2, 33.5, 38.1, 31.7, 28.8, 35.5, 26.2, 32.2, 37.3, 30.2, 27.0, 34.7, 39.0, 29.0, 33.1, 25.7,
 36.5, 31.2, 28.4, 35.0, 32.8, 26.9, 38.4, 30.5, 34.3, 27.8, 43.0, 29.6, 33.8, 25.5, 36.2, 31.0, 28.1, 37.5, 32.5, 26.4,
 35.7, 30.0, 38.7, 27.3, 33.9, 29.1, 36.4, 24.9, 34.6, 31.5, 28.7, 37.0, 32.0, 26.0, 35.4, 30.7, 41.0, 27.9, 33.2, 29.8,
 36.9, 25.3, 34.2, 31.8, 28.2, 37.8, 32.7, 26.7, 35.1, 30.1, 38.2, 27.4, 33.6, 29.4, 36.1, 24.6, 34.0, 31.4, 28.9, 37.2,
 32.3, 26.3, 35.8, 30.6, 39.2, 28.0, 33.4, 29.7, 36.7, 25.8, 34.4, 31.7, 27.2, 37.6, 32.1, 26.5, 35.3, 30.3, 38.5, 28.6,
 33.0, 29.2, 36.3, 25.0, 34.9, 31.1, 27.7, 37.4, 32.9, 26.1, 35.6, 30.4, 43.8, 28.3, 33.7, 29.5, 36.8, 24.8, 34.5, 31.2,
 27.6, 37.1, 32.4, 26.8, 35.0, 30.9, 38.8, 27.9, 33.5, 29.0, 36.0, 25.4, 34.1, 31.6, 28.5, 37.3, 32.6, 26.2, 41.3, 29.7,
 33.8, 28.1, 36.6, 25.6, 34.7, 30.2, 27.3, 32.0, 31.5]

lat_random_pred = [
 36.4, 32.0, 37.2, 30.5, 34.8, 28.6, 36.0, 31.4, 33.7, 29.2, 39.8, 32.6, 35.5, 27.8, 34.1, 38.0, 30.8, 33.2, 36.7, 29.5,
 34.3, 31.1, 37.8, 28.9, 35.2, 32.4, 30.0, 36.5, 33.0, 29.8, 38.6, 31.7, 34.9, 27.5, 33.6, 36.1, 30.3, 35.7, 32.2, 28.4,
 37.0, 33.4, 29.6, 35.9, 31.9, 38.3, 28.2, 34.4, 32.8, 30.6, 36.3, 27.3, 33.9, 35.4, 29.9, 31.5, 37.5, 30.2, 34.6, 28.8,
 35.1, 32.9, 29.0, 36.9, 31.2, 34.0, 27.9, 33.3, 37.3, 30.4, 35.8, 32.1, 28.6, 34.7, 31.0, 38.1, 29.4, 33.8, 36.2, 30.9,
 32.5, 28.3, 35.6, 31.8, 37.7, 29.7, 34.2, 30.7, 36.6, 27.6, 33.1, 35.0, 31.3, 38.8, 28.9, 34.5, 32.3, 30.1, 36.4, 29.3,
 33.5, 37.1, 30.8, 34.8, 28.5, 35.3, 31.6, 36.8, 29.1, 33.0, 37.9, 30.5, 34.1, 27.7, 35.7, 32.7, 29.8, 36.0, 31.4, 33.9,
 28.0, 35.5, 32.0, 37.4, 30.3, 34.3, 29.5, 36.1, 31.9, 33.2, 27.4, 35.0, 38.4, 30.0, 33.7, 31.1, 36.9, 28.7, 34.6, 32.4,
 30.6, 36.3, 33.4, 29.2, 35.2, 31.7, 37.6, 28.4, 34.0, 32.2, 30.1, 36.7, 29.6, 33.6, 35.9, 31.0, 27.9, 34.9, 32.8, 37.0,
 29.9, 33.3, 36.2, 30.7, 34.4, 28.1, 35.4, 31.5, 37.8, 29.4, 33.0, 36.5, 30.2, 34.7, 32.5, 28.8, 35.8, 31.2, 33.9, 36.9,
 30.4, 34.1, 29.0, 35.6, 32.0, 37.2, 28.6, 33.5, 31.3, 36.0, 29.7, 34.8, 32.9, 27.6, 35.1, 31.8, 38.0, 30.0, 33.4, 36.3,
 29.3, 34.5, 31.9, 36.8, 28.3, 33.1, 35.7, 30.6, 34.0, 32.3, 37.5, 29.6, 35.2, 31.0, 33.8, 28.9, 36.4, 32.6, 30.3, 35.0,
 33.6, 29.0, 36.1, 31.6, 34.3, 27.8, 35.5, 32.1, 30.8, 37.1, 29.4, 33.9, 35.8, 31.2, 34.6, 28.5, 36.6, 30.9, 33.2, 32.0,
 35.3, 30.1, 33.7, 37.7, 29.2, 34.9, 31.5, 36.2, 28.7, 33.0, 35.6, 30.5, 34.2, 32.7, 29.8, 36.9, 31.3, 33.5, 27.7, 35.4,
 32.2, 36.5, 30.2, 34.4, 31.8, 37.3, 29.5, 33.3, 35.9, 30.7, 34.1, 28.4, 36.0, 32.5, 30.9, 40.8, 31.1, 34.8, 29.1, 33.6,
 36.7, 31.4, 34.5, 29.8, 33.1, 35.2, 30.4, 32.6, 32.2]

qoe_series = [qoe_exh_genie, qoe_exh_pred, qoe_cdrl_genie, qoe_cdrl_fedavg,
              qoe_cdrl_pred, qoe_random_genie, qoe_random_pred]
lat_series = [lat_exh_genie, lat_exh_pred, lat_cdrl_genie, lat_cdrl_fedavg,
              lat_cdrl_pred, lat_random_genie, lat_random_pred]

qoe_yticks = [0.25, 0.50, 0.75, 1.00, 1.25, 1.50, 1.75, 2.00]
lat_yticks = [15, 20, 25, 30, 35, 40, 45, 50]
xticks = [0, 50, 100, 150, 200, 250, 300]

sns.set_theme(style="whitegrid")
plt.rcParams["font.family"] = ["Liberation Serif", "DejaVu Serif"]
plt.rcParams["axes.edgecolor"] = "#555555"
plt.rcParams["axes.linewidth"] = 0.8
plt.rcParams["grid.color"] = "#e6e6e6"
plt.rcParams["grid.linewidth"] = 0.7

fig = plt.figure(figsize=(6.4, 2.43), dpi=100)
ax1 = fig.add_axes([45 / 640, 1 - 187 / 243, 247.5 / 640, 186.5 / 243])
ax2 = fig.add_axes([370 / 640, 1 - 187 / 243, 247.5 / 640, 186.5 / 243])


def draw(ax, series):
    for vals, lab, col in zip(series, series_labels, series_colors):
        alpha = 0.8 if lab.startswith("Random") else 1.0
        sns.lineplot(x=np.arange(len(vals)), y=vals, ax=ax, color=col, label=lab,
                     marker="o", markersize=2.6, markeredgewidth=0, linewidth=0.9,
                     alpha=alpha)
    ax.set_xticks(xticks)
    ax.tick_params(labelsize=7.5, pad=2.5, length=0)
    ax.tick_params(axis="x", pad=3.5)
    ax.set_xlabel("Time Slot", fontsize=7.5, labelpad=2)
    for s in ax.spines.values():
        s.set_visible(True)


draw(ax1, qoe_series)
draw(ax2, lat_series)

ax1.set_yticks(qoe_yticks)
ax1.set_yticklabels([f"{v:.2f}" for v in qoe_yticks])
ax1.set_ylabel("Average QoE", fontsize=7.5, labelpad=2)
ax2.set_yticks(lat_yticks)
ax2.set_ylabel("Average VR Interaction Latency (ms)", fontsize=7.5, labelpad=2)

leg_kw = dict(fontsize=5, labelspacing=0.5, handlelength=2.4, handletextpad=0.6,
              borderpad=0.45, framealpha=0.8, fancybox=False, edgecolor="#cccccc",
              borderaxespad=0.15)
ax1.legend(loc="lower right", **leg_kw)
ax2.legend(loc="upper right", **leg_kw)

fig.text(165 / 640, 1 - 223 / 243, "(a)", ha="center", va="center", fontsize=7.5)
fig.text(485 / 640, 1 - 223 / 243, "(b)", ha="center", va="center", fontsize=7.5)
fig.text(0.0, 1 - 240 / 243,
         "Fig. 12.   (a) Average QoE of the MEC-enabled and RIS-assisted THz VR network of each time slot via C-DRL with viewpoint and LoS/NLoS prediction",
         ha="left", va="center", fontsize=7.7)

fig.savefig("out.png", dpi=100)
